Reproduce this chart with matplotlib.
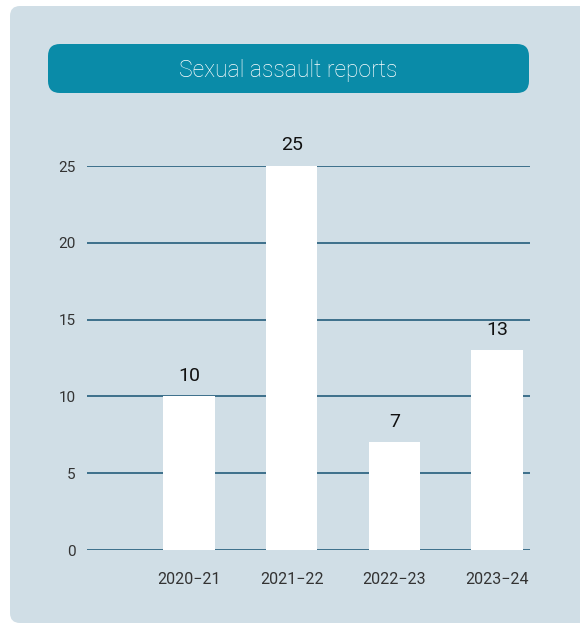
import matplotlib.pyplot as plt
from matplotlib.patches import FancyBboxPatch

# data
seasons = ['2020\u221221', '2021\u221222', '2022\u221223', '2023\u221224']
reports = [10, 25, 7, 13]
y_ticks = [0, 5, 10, 15, 20, 25]

bg = '#d0dee6'
teal = '#0a8ba8'
grid_col = '#245d7c'

fig = plt.figure(figsize=(5.8, 6.25), dpi=100)
fig.patch.set_facecolor('white')

# rounded background panel (pixel coords)
panel = FancyBboxPatch((10, 2), 620, 617, boxstyle='round,pad=0,rounding_size=10',
                       transform=None, facecolor=bg, edgecolor='none', zorder=-2)
fig.patches.append(panel)

# title box
title_box = FancyBboxPatch((48, 625 - 93), 481, 49, boxstyle='round,pad=0,rounding_size=12',
                           transform=None, facecolor=teal, edgecolor='none', zorder=-1)
fig.patches.append(title_box)
fig.text(288.5 / 580, 1 - 70 / 625, 'Sexual assault reports', ha='center', va='center',
         color='white', fontsize=16.5, family='Roboto', fontweight='light')

ax = fig.add_axes([86.5 / 580, 75 / 625, (530 - 86.5) / 580, (550 - 166) / 625])
ax.set_facecolor('none')
ax.set_zorder(2)

x = [1, 2, 3, 4]
bars = ax.bar(x, reports, width=0.5, color='white', zorder=3)
for xi, v in zip(x, reports):
    ax.text(xi, v + 0.75, str(v), ha='center', va='bottom', fontsize=14,
            family='Roboto', color='#111111', clip_on=False)

ax.set_xlim(0, 4.32)
ax.set_ylim(0, 25)
ax.set_yticks(y_ticks)
ax.set_xticks(x)
ax.set_xticklabels(seasons)
for t in y_ticks:
    ax.axhline(t, color=grid_col, lw=1.2, zorder=1)

for s in ax.spines.values():
    s.set_visible(False)
ax.tick_params(axis='y', length=0, pad=8, labelsize=11, labelcolor='#333333')
ax.tick_params(axis='x', length=0, pad=16, labelsize=11.5, labelcolor='#333333')
for lab in ax.get_xticklabels() + ax.get_yticklabels():
    lab.set_family('Roboto')

fig.savefig('out.png', dpi=100, facecolor='white')
